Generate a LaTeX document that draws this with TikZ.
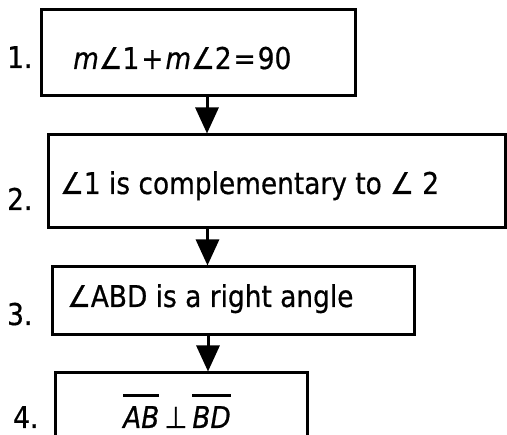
\documentclass[tikz,border=0pt]{standalone}
\usepackage{fontspec}
\setmainfont{DejaVu Sans}[FakeStretch=0.88,FakeBold=0.6]
\usetikzlibrary{arrows.meta}
\newcommand\segbar[1]{\vbox{\hrule height 3pt\kern 9pt\hbox{\itshape #1}}}

\begin{document}
\begin{tikzpicture}[x=1pt,y=-1pt,
    box/.style={draw,line width=3pt,inner sep=0pt},
    stmt/.style={inner sep=0pt,anchor=base west,font=\fontsize{30}{34}\selectfont},
    num/.style={inner sep=0pt,anchor=base west,font=\fontsize{30}{34}\selectfont},
    link/.style={line width=3pt,-{Triangle[length=26pt,width=23pt]}}]
    \useasboundingbox (0,0) rectangle (507,435);
    \clip (0,0) rectangle (507,435);
    % boxes
    \node[box,minimum width=314pt,minimum height=86pt] (b1) at (198,53) {};
    \node[box,minimum width=457pt,minimum height=93pt] (b2) at (276.5,181.5) {};
    \node[box,minimum width=362pt,minimum height=68pt] (b3) at (233,301) {};
    \node[box,minimum width=252pt,minimum height=80pt] (b4) at (181,413) {};
    % statements
    \node[stmt] (t1) at (73,69) {{\itshape m}∠1\kern2pt+\kern2pt{\itshape m}∠2\kern2pt=\kern2pt90};
    \node[stmt] (t2) at (60,194) {∠1 is complementary to ∠ 2};
    \node[stmt] (t3) at (67,307) {∠ABD is a right angle};
    \node[stmt] (t4) at (123,428) {\segbar{AB}\,⊥\,\segbar{BD}};
    % step numbers
    \node[num] (n1) at (7,68) {1.};
    \node[num] (n2) at (7,210) {2.};
    \node[num] (n3) at (7,325) {3.};
    \node[num] (n4) at (13,428) {4.};
    % arrows
    \draw[link] ([xshift=9pt]b1.south) -- ([xshift=9pt]b1.south |- b2.north);
    \draw[link] ([xshift=-69pt]b2.south) -- ([xshift=-69pt]b2.south |- b3.north);
    \draw[link] ([xshift=-25pt]b3.south) -- ([xshift=-25pt]b3.south |- b4.north);
\end{tikzpicture}
\end{document}
